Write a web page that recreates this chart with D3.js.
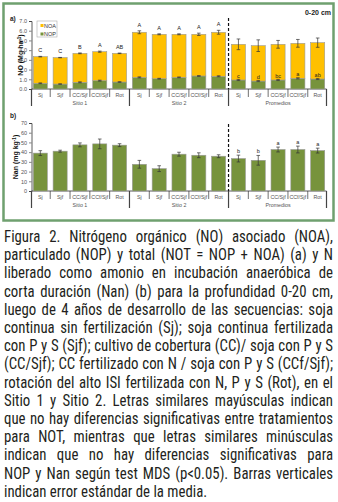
<!DOCTYPE html>
<html><head><meta charset="utf-8">
<script src="https://cdn.jsdelivr.net/npm/d3@7"></script>
<style>
html,body{margin:0;padding:0;background:#fff;}
#wrap{position:relative;width:338px;height:502px;overflow:hidden;}
svg{position:absolute;left:0;top:0;}
#cap{position:absolute;left:4px;top:228px;width:329px;font-family:"Liberation Sans Narrow","Roboto Condensed","DejaVu Sans Condensed","Roboto",sans-serif;font-size:16px;line-height:18.2px;color:#231f20;transform-origin:0 0;}
#cap div{text-align:justify;text-align-last:justify;white-space:nowrap;}
#cap div.last{text-align-last:left;}
#cap span.m{white-space:nowrap;}
</style></head>
<body><div id="wrap"><svg id="chart" width="338" height="225"></svg><div id="cap"></div></div>
<script>
const categories = ["Sj","Sjf","CC/Sjf","CCf/Sjf","Rot"];
const groups = ["Sitio 1","Sitio 2","Promedios"];
const nopValues = [0.59,0.51,0.69,0.86,0.72, 1.20,1.06,1.20,1.34,1.31, 0.93,0.82,0.93,1.10,1.03];
const noaValues = [2.74,2.72,2.98,2.98,2.95, 4.64,4.57,4.43,4.29,4.53, 3.67,3.64,3.67,3.60,3.74];
const notErr = [0.03,0.02,0.04,0.06,0.03, 0.15,0.05,0.05,0.12,0.20, 0.55,0.60,0.40,0.40,0.48];
const nopErr = [0.04,0.02,0.05,0.05,0.03, 0.05,0.04,0.04,0.04,0.05, 0.06,0.06,0.06,0.06,0.06];
const notLetters = ["C","C","B","A","AB","A","A","A","A","A","","","","",""];
const nopLetters = ["","","","","","","","","","","c","d","bc","a","ab"];
const nanValues = [39,41,47.5,48.5,47.2, 27.5,23,37.9,36.8,35.8, 33.4,31.6,42.7,42.7,41.6];
const nanErr = [2.5,1,2,5,1.5, 4,3,2,2.5,1.5, 3.5,5,2.5,3.5,2.5];
const nanLetters = ["","","","","","","","","","","b","b","a","a","a"];
const ticksA = [0,1,2,3,4,5,6,7];
const ticksB = [0,10,20,30,40,50,60,70];
const captionLines = [
"Figura 2. Nitrógeno orgánico (NO) asociado (NOA),",
"particulado (NOP) y total (NOT = NOP + NOA) (a) y N",
"liberado como amonio en incubación anaeróbica de",
"corta duración (Nan) (b) para la profundidad 0-20 cm,",
"luego de 4 años de desarrollo de las secuencias: soja",
"continua sin fertilización (Sj); soja continua fertilizada",
"con P y S (Sjf); cultivo de cobertura (CC)/ soja con P y S",
"(CC/Sjf); CC fertilizado con N / soja con P y S (CCf/Sjf);",
"rotación del alto ISI fertilizada con N, P y S (Rot), en el",
"Sitio 1 y Sitio 2. Letras similares mayúsculas indican",
"que no hay diferencias significativas entre tratamientos",
"para NOT, mientras que letras similares minúsculas",
"indican que no hay diferencias significativas para",
"NOP y Nan según test MDS (p<0.05). Barras verticales",
"indican error estándar de la media."
];

const cNOA = "#FFC000", cNOP = "#77933C", cEdge = "#9a9a9a", cTxt = "#555";
const svg = d3.select("#chart");
svg.append("rect").attr("x",3.5).attr("y",3.5).attr("width",330).attr("height",217)
  .attr("fill","#fff").attr("stroke","#6fa06f").attr("stroke-width",2.5);

const idx = d3.range(15);
const x = d3.scaleBand().domain(idx).range([31.5,326.5]).paddingInner(0.29).paddingOuter(0.09);
const font = "Liberation Sans, Arial, sans-serif";

function panel(y0, y1, yDomain, ticks, labelText, labelX) {
  const y = d3.scaleLinear().domain(yDomain).range([y0, y1]);
  const g = svg.append("g");
  const ax = d3.axisLeft(y).tickValues(ticks).tickSize(2.5).tickPadding(2);
  const ag = g.append("g").attr("transform","translate(31.5,0)").call(ax);
  ag.select(".domain").attr("stroke","#333").attr("stroke-width",0.8);
  ag.selectAll(".tick line").attr("stroke","#333").attr("stroke-width",0.6);
  ag.selectAll("text").attr("font-family",font).attr("font-size",5.5).attr("fill",cTxt);
  g.append("line").attr("x1",31.5).attr("x2",326.5).attr("y1",y0).attr("y2",y0).attr("stroke","#333").attr("stroke-width",0.8);
  const step = x.step();
  idx.forEach(i=>{
    const sx = x(i) + x.bandwidth() + (step - x.bandwidth())/2;
    if (i < 14) {
      const long = (i % 5) === 4;
      g.append("line").attr("x1",sx).attr("x2",sx).attr("y1",y0).attr("y2",y0 + (long?17:8))
        .attr("stroke", long ? "#444" : "#333").attr("stroke-width", long?1.2:0.7);
    }
    g.append("text").attr("x",x(i)+x.bandwidth()/2).attr("y",y0+8).attr("text-anchor","middle")
      .attr("font-family",font).attr("font-size",5.3).attr("fill",cTxt).text(categories[i%5]);
  });
  [31.5, 326.5].forEach(sx=>{
    g.append("line").attr("x1",sx).attr("x2",sx).attr("y1",y0).attr("y2",y0+17).attr("stroke","#444").attr("stroke-width",1.2);
  });
  groups.forEach((gr,k)=>{
    const cx = (x(k*5) + x(k*5+4) + x.bandwidth())/2;
    g.append("text").attr("x",cx).attr("y",y0+16).attr("text-anchor","middle")
      .attr("font-family",font).attr("font-size",5.3).attr("fill",cTxt).text(gr);
  });
  const t = g.append("text").attr("transform",`translate(${labelX},${(y0+y1)/2}) rotate(-90)`)
    .attr("text-anchor","middle").attr("font-family",font).attr("font-weight","bold")
    .attr("font-size",7).attr("fill","#111");
  t.append("tspan").text(labelText[0]);
  t.append("tspan").attr("font-size",4.5).attr("dy",-2.5).text(labelText[1]);
  t.append("tspan").attr("dy",2.5).text(labelText[2]);
  return {g,y};
}

function errBar(g, cx, ylo, yhi) {
  g.append("line").attr("x1",cx).attr("x2",cx).attr("y1",ylo).attr("y2",yhi).attr("stroke","#333").attr("stroke-width",0.7);
  [ylo,yhi].forEach(yy=>g.append("line").attr("x1",cx-1.8).attr("x2",cx+1.8).attr("y1",yy).attr("y2",yy).attr("stroke","#333").attr("stroke-width",0.7));
}

// Panel a
const A = panel(89, 21, [0,7], ticksA, ["NO (Mg ha","-1",")"], 23);
idx.forEach(i=>{
  const tot = nopValues[i] + noaValues[i];
  A.g.append("rect").attr("x",x(i)).attr("width",x.bandwidth())
    .attr("y",A.y(nopValues[i])).attr("height",A.y(0)-A.y(nopValues[i]))
    .attr("fill",cNOP).attr("stroke",cEdge).attr("stroke-width",0.6);
  A.g.append("rect").attr("x",x(i)).attr("width",x.bandwidth())
    .attr("y",A.y(tot)).attr("height",A.y(nopValues[i])-A.y(tot))
    .attr("fill",cNOA).attr("stroke",cEdge).attr("stroke-width",0.6);
  const cx = x(i)+x.bandwidth()/2;
  errBar(A.g, cx, A.y(tot-notErr[i]), A.y(tot+notErr[i]));
  errBar(A.g, cx, A.y(nopValues[i]-nopErr[i]), A.y(nopValues[i]+nopErr[i]));
  if (notLetters[i]) A.g.append("text").attr("x",cx).attr("y",A.y(tot+notErr[i])-4)
    .attr("text-anchor","middle").attr("font-family",font).attr("font-size",5.5).attr("fill","#222").text(notLetters[i]);
  if (nopLetters[i]) A.g.append("text").attr("x",cx).attr("y",A.y(nopValues[i]+nopErr[i])-1.5)
    .attr("text-anchor","middle").attr("font-family",font).attr("font-size",5.5).attr("fill","#222").text(nopLetters[i]);
});
const dashX = x(9)+x.bandwidth()+(x.step()-x.bandwidth())/2;
A.g.append("line").attr("x1",dashX).attr("x2",dashX).attr("y1",18).attr("y2",89).attr("stroke","#111").attr("stroke-width",1.2).attr("stroke-dasharray","3,2");
const lg = svg.append("g");
lg.append("rect").attr("x",37).attr("y",21).attr("width",20).attr("height",16).attr("fill","#fff").attr("stroke","#aaa").attr("stroke-width",0.6);
[["NOA",cNOA,25.5],["NOP",cNOP,34]].forEach(([n,c,yy])=>{
  lg.append("rect").attr("x",40.5).attr("y",yy-1.5).attr("width",3).attr("height",3).attr("fill",c);
  lg.append("text").attr("x",44).attr("y",yy+2).attr("font-family",font).attr("font-size",5.5).attr("fill","#333").text(n);
});
svg.append("text").attr("x",10).attr("y",21).attr("font-family",font).attr("font-weight","bold").attr("font-size",6.5).attr("fill","#222").text("a)");
svg.append("text").attr("x",331).attr("y",15).attr("text-anchor","end").attr("font-family",font).attr("font-weight","bold").attr("font-size",7).attr("fill","#222").text("0-20 cm");

// Panel b
const B = panel(191, 123, [0,70], ticksB, ["Nan (mg kg","-1",")"], 18);
idx.forEach(i=>{
  B.g.append("rect").attr("x",x(i)).attr("width",x.bandwidth())
    .attr("y",B.y(nanValues[i])).attr("height",B.y(0)-B.y(nanValues[i]))
    .attr("fill",cNOP).attr("stroke",cEdge).attr("stroke-width",0.6);
  const cx = x(i)+x.bandwidth()/2;
  errBar(B.g, cx, B.y(nanValues[i]-nanErr[i]), B.y(nanValues[i]+nanErr[i]));
  if (nanLetters[i]) B.g.append("text").attr("x",cx).attr("y",B.y(nanValues[i]+nanErr[i])-2)
    .attr("text-anchor","middle").attr("font-family",font).attr("font-size",5.5).attr("fill","#222").text(nanLetters[i]);
});
B.g.append("line").attr("x1",dashX).attr("x2",dashX).attr("y1",124).attr("y2",191).attr("stroke","#111").attr("stroke-width",1.2).attr("stroke-dasharray","3,2");
svg.append("text").attr("x",10).attr("y",118).attr("font-family",font).attr("font-weight","bold").attr("font-size",6.5).attr("fill","#222").text("b)");

// caption: measure natural widths, condense horizontally to fit 329px
const cap = d3.select("#cap");
const meas = cap.append("span").attr("class","m").style("position","absolute").style("visibility","hidden");
let maxW = 0;
captionLines.forEach(l=>{ meas.text(l); maxW = Math.max(maxW, meas.node().getBoundingClientRect().width); });
meas.remove();
const targetW = 329;
const s = Math.min(1, (targetW - 4) / maxW);
cap.style("width", (targetW / s) + "px").style("transform", `scaleX(${s})`);
cap.selectAll("div").data(captionLines).join("div")
  .attr("class",(d,i)=> i===captionLines.length-1 ? "last" : null).text(d=>d);
</script></body></html>
